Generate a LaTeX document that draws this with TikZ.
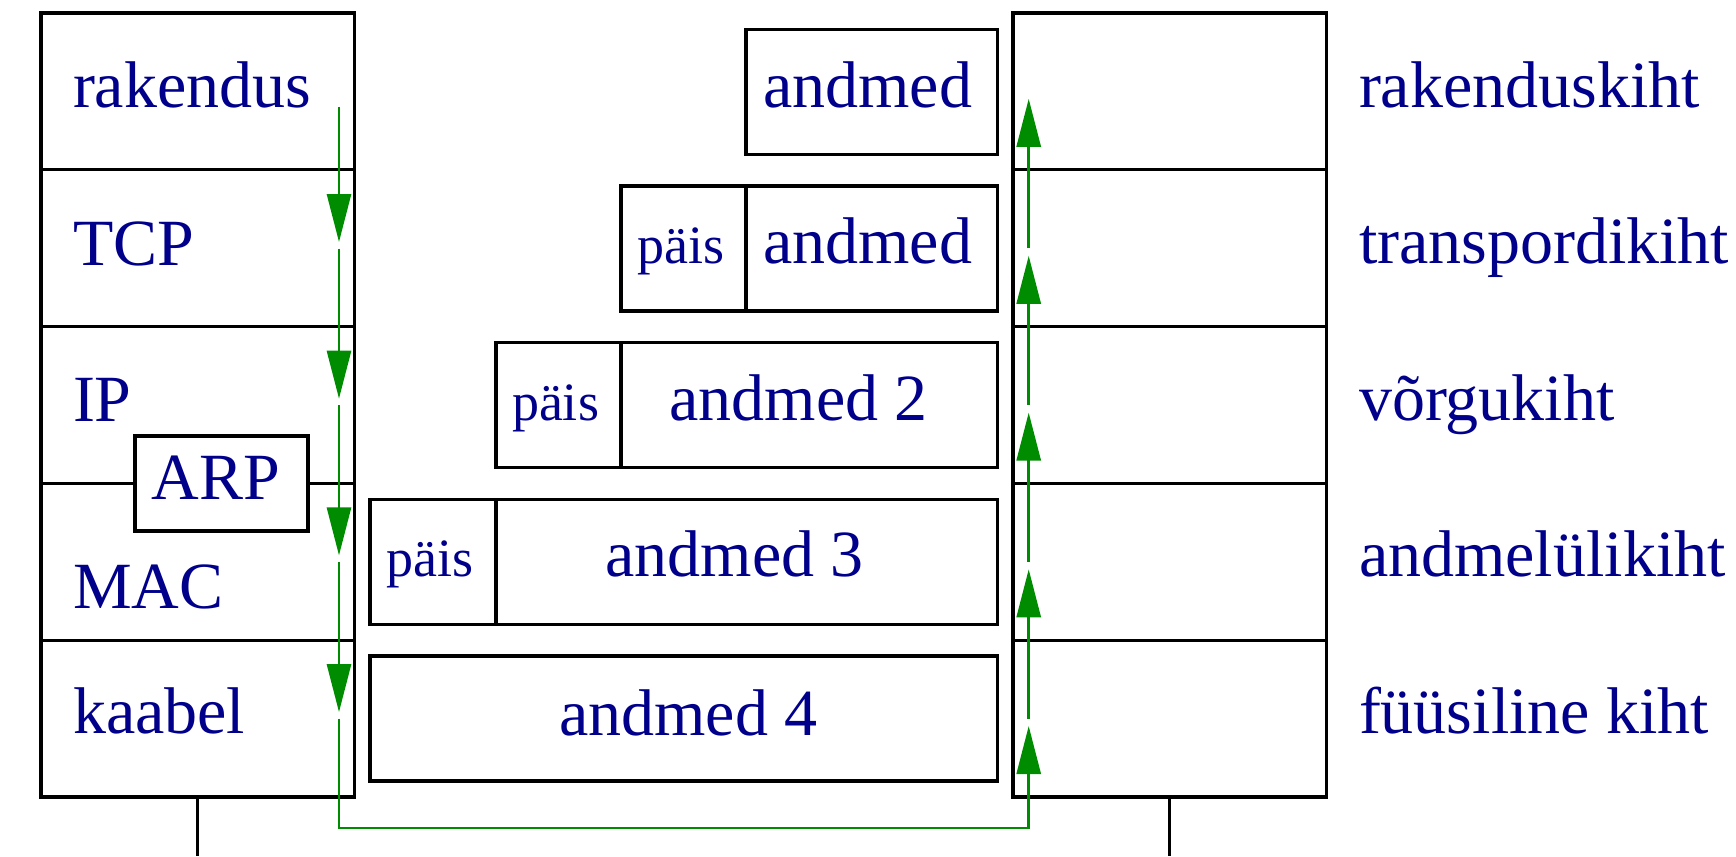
\documentclass[tikz,border=0pt]{standalone}
\usepackage{fontspec}
\setmainfont{Liberation Serif}
\usetikzlibrary{arrows.meta}
\definecolor{labelblue}{RGB}{0,0,139}
\definecolor{flowgreen}{RGB}{0,140,0}
\begin{document}
\begin{tikzpicture}[x=1pt,y=-1pt,
  layer/.style={draw=black, line width=3.2pt, minimum width=313.5pt, minimum height=156.8pt,
    inner sep=0pt, outer sep=0pt, anchor=north west},
  cell/.style={draw=black, line width=3.2pt, minimum height=125pt,
    inner sep=0pt, outer sep=0pt, anchor=north west},
  big/.style={text=labelblue, font=\fontsize{66pt}{79pt}\selectfont, inner sep=0pt, outer sep=0pt},
  small/.style={text=labelblue, font=\fontsize{54pt}{65pt}\selectfont, inner sep=0pt, outer sep=0pt},
  flow/.style={draw=flowgreen, line width=2.8pt, -{Triangle[length=48pt,width=24pt]}},
  wire/.style={draw=black, line width=3.2pt},
]
\useasboundingbox (0,0) rectangle (1736,856);
\coordinate (base) at (0,856);

% sending host protocol stack
\node[layer] (lrak) at (41,13) {};
\node[layer] (ltcp) at (41,169.8) {};
\node[layer] (lip)  at (41,326.6) {};
\node[layer] (lmac) at (41,483.4) {};
\node[layer] (lkab) at (41,640.2) {};
\draw[wire] (lkab.south) -- (lkab.south |- base);

% ARP sits across the IP / MAC boundary
\node[draw=black, fill=white, line width=3.2pt, minimum width=173pt, minimum height=95pt,
  inner sep=0pt, outer sep=0pt] (arp) at (221.5,483.5) {};
\node[big, anchor=base] (arptext) at (216,499) {ARP};

\node[big, anchor=base west] (trak) at (73,108) {rakendus};
\node[big, anchor=base west] (ttcp) at (73,265) {TCP};
\node[big, anchor=base west] (tip)  at (73,421) {IP};
\node[big, anchor=base west] (tmac) at (73,608) {MAC};
\node[big, anchor=base west] (tkab) at (73,733) {kaabel};

% receiving host protocol stack
\node[layer] (rrak) at (1013,13) {};
\node[layer] (rtra) at (1013,169.8) {};
\node[layer] (rvor) at (1013,326.6) {};
\node[layer] (rlin) at (1013,483.4) {};
\node[layer] (rfys) at (1013,640.2) {};
\draw[wire] (rfys.south) -- (rfys.south |- base);

\node[big, anchor=base west] (krak) at (1359,107) {rakenduskiht};
\node[big, anchor=base west] (ktra) at (1359,263.5) {transpordikiht};
\node[big, anchor=base west] (kvor) at (1359,420) {võrgukiht};
\node[big, anchor=base west] (klin) at (1359,576.7) {andmelülikiht};
\node[big, anchor=base west] (kfys) at (1359,733.5) {füüsiline kiht};

% encapsulated packets
\node[cell, minimum width=251.7pt] (d1) at (746,29.3) {};
\node[big, anchor=base] (d1t) at (867.5,107) {andmed};

\node[cell, minimum width=125pt] (h2) at (621,186) {};
\node[cell, minimum width=251.7pt] (d2) at (746,186) {};
\node[small, anchor=base] (h2t) at (681,263) {päis};
\node[big, anchor=base] (d2t) at (867.5,263) {andmed};

\node[cell, minimum width=125pt] (h3) at (496,342.7) {};
\node[cell, minimum width=376.7pt] (d3) at (621,342.7) {};
\node[small, anchor=base] (h3t) at (555.5,420) {päis};
\node[big, anchor=base] (d3t) at (798.6,420) {andmed 2};

\node[cell, minimum width=126pt] (h4) at (370,499.3) {};
\node[cell, minimum width=501.7pt] (d4) at (496,499.3) {};
\node[small, anchor=base] (h4t) at (430,576.7) {päis};
\node[big, anchor=base] (d4t) at (734.7,576.7) {andmed 3};

\node[cell, minimum width=627.7pt] (d5) at (370,656) {};
\node[big, anchor=base] (d5t) at (688.5,735) {andmed 4};

% data flow: down the sender, across the cable, up the receiver
\coordinate (dn0)  at (339,107);
\coordinate (dn1)  at (339,242);   \coordinate (dn1b) at (339,248.5);
\coordinate (dn2)  at (339,398.7); \coordinate (dn2b) at (339,405.2);
\coordinate (dn3)  at (339,555.4); \coordinate (dn3b) at (339,561.9);
\coordinate (dn4)  at (339,712.1); \coordinate (dn4b) at (339,718.6);
\coordinate (lowL) at (339,828);
\coordinate (lowR) at (1028.7,828);
\coordinate (up5)  at (1028.7,726);   \coordinate (up5b) at (1028.7,718.5);
\coordinate (up4)  at (1028.7,569.3); \coordinate (up4b) at (1028.7,561.8);
\coordinate (up3)  at (1028.7,412.6); \coordinate (up3b) at (1028.7,405);
\coordinate (up2)  at (1028.7,255.8); \coordinate (up2b) at (1028.7,248.3);
\coordinate (up1)  at (1028.7,98.8);

\draw[flow] (dn0) -- (dn1);
\draw[flow] (dn1b) -- (dn2);
\draw[flow] (dn2b) -- (dn3);
\draw[flow] (dn3b) -- (dn4);
\draw[flow] (dn4b) -- (lowL) -- (lowR) -- (up5);
\draw[flow] (up5b) -- (up4);
\draw[flow] (up4b) -- (up3);
\draw[flow] (up3b) -- (up2);
\draw[flow] (up2b) -- (up1);
\end{tikzpicture}
\end{document}
